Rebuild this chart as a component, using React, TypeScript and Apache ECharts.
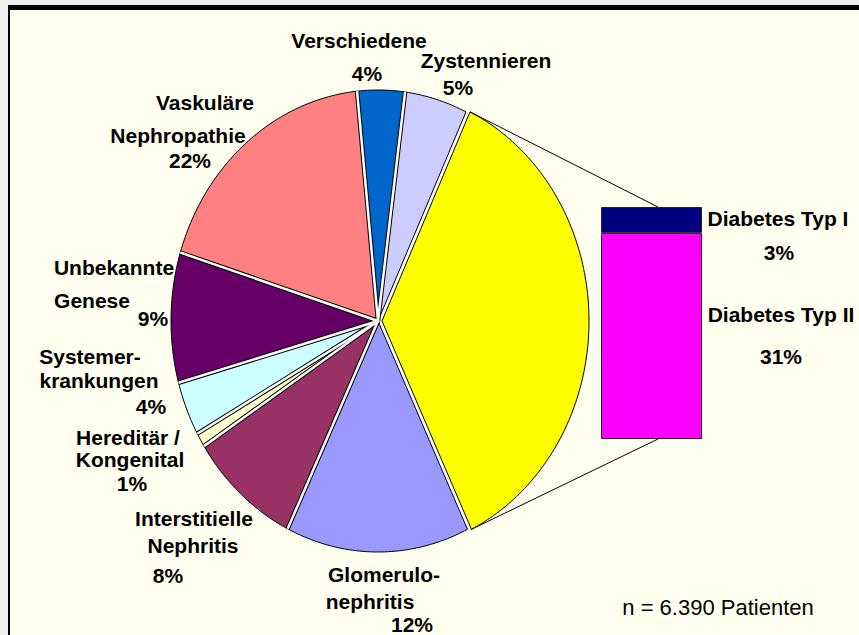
import React, { useEffect, useRef } from "react";
import * as echarts from "echarts";

// ---------- data ----------
const sliceNames = [
  "Verschiedene",
  "Zystennieren",
  "Diabetes",
  "Glomerulonephritis",
  "Interstitielle Nephritis",
  "Hereditär / Kongenital",
  "Systemerkrankungen",
  "Unbekannte Genese",
  "Vaskuläre Nephropathie",
];
const diabetesNames = ["Diabetes Typ I", "Diabetes Typ II"];
const diabetesValues = [4.0, 31.9];
const diabetesLabels = ["3%", "31%"];
const diabetesTotal = diabetesValues[0] + diabetesValues[1];
const sliceValues = [3.7, 4.9, diabetesTotal, 14.3, 8.7, 1.0, 3.8, 9.1, 18.6];
const sliceLabels = ["4%", "5%", "", "12%", "8%", "1%", "4%", "9%", "22%"];
const sliceLabelLines = [
  ["Verschiedene"],
  ["Zystennieren"],
  [],
  ["Glomerulo-", "nephritis"],
  ["Interstitielle", "Nephritis"],
  ["Hereditär /", "Kongenital"],
  ["Systemer-", "krankungen"],
  ["Unbekannte", "Genese"],
  ["Vaskuläre", "Nephropathie"],
];
const noteText = "n = 6.390 Patienten";

// ---------- styles / layout ----------
const sliceColors = [
  "#0066CC",
  "#CCCCFF",
  "#FFFF00",
  "#9999FF",
  "#993366",
  "#FFFFCC",
  "#CCFFFF",
  "#660066",
  "#FF8080",
];
const diabetesColors = ["#000080", "#FF00FF"];
const DIAB = 2;
const CX = 378;
const CY = 321;
const RX = 207;
const RY = 231;
const K = RY / RX;
const START_DEG = -5.8;
const BAR_LEFT = 601;
const BAR_TOP = 207;
const BAR_W = 101;
const BAR_H = 232;
const LINE_END_X = BAR_LEFT + 57;

// centre positions of label lines (name lines..., percentage line)
const labelPos: number[][][] = [
  [[359, 40], [367, 73]],
  [[486, 60], [458, 87]],
  [],
  [[384, 574], [370, 601], [412, 624]],
  [[194, 518], [193, 545], [168, 575]],
  [[128, 437], [130, 459], [132, 483]],
  [[90, 356], [99, 380], [151, 406]],
  [[114, 267], [92, 300], [153, 318]],
  [[205, 102], [178, 135], [190, 160]],
];
const diabetesLabelPos = [
  [[778, 218], [779, 252]],
  [[781, 314], [781, 356]],
];
const notePos = [718, 607];

const FONT = "'Liberation Sans', Arial, Helvetica, sans-serif";
const FS = 21;
const NOTE_FS = 22;

// cumulative angles (degrees, clockwise from 12 o'clock)
const totalValue = sliceValues.reduce((a, b) => a + b, 0);
const sliceAngles: number[] = [START_DEG];
sliceValues.forEach((v, i) => sliceAngles.push(sliceAngles[i] + (v / totalValue) * 360));

function pt(deg: number, ox: number, oy: number): number[] {
  const r = (deg * Math.PI) / 180;
  return [CX + ox + RX * Math.sin(r), CY + oy - RY * Math.cos(r)];
}

function textEl(text: string, x: number, y: number, bold = true, fs = FS) {
  return {
    type: "text",
    x,
    y,
    z: 100,
    style: {
      text,
      fill: "#000",
      font: `${bold ? "bold " : ""}${fs}px ${FONT}`,
      textAlign: "center",
      textVerticalAlign: "middle",
    },
  };
}

export default function App() {
  const ref = useRef<HTMLDivElement>(null);

  useEffect(() => {
    if (!ref.current) return;
    const chart = echarts.init(ref.current, undefined, { renderer: "svg" });

    const texts: any[] = [];
    sliceLabelLines.forEach((lines, i) => {
      const all = lines.concat(sliceLabels[i] ? [sliceLabels[i]] : []);
      all.forEach((t, j) => {
        const p = labelPos[i][j];
        if (p) texts.push(textEl(t, p[0], p[1]));
      });
    });
    diabetesNames.forEach((n, i) => {
      texts.push(textEl(n, diabetesLabelPos[i][0][0], diabetesLabelPos[i][0][1]));
      texts.push(textEl(diabetesLabels[i], diabetesLabelPos[i][1][0], diabetesLabelPos[i][1][1]));
    });
    texts.push(textEl(noteText, notePos[0], notePos[1], false, NOTE_FS));

    const lastIndex = sliceValues.length - 1;

    const option: any = {
      animation: false,
      backgroundColor: "#F0F0F0",
      graphic: [
        { type: "rect", z: -100, shape: { x: 8, y: 5, width: 851, height: 630 }, style: { fill: "#FFFFF0" } },
        { type: "rect", z: -99, shape: { x: 8, y: 5, width: 851, height: 5 }, style: { fill: "#000" } },
        { type: "rect", z: -99, shape: { x: 8, y: 5, width: 2, height: 630 }, style: { fill: "#000" } },
        ...texts,
      ],
      grid: { left: BAR_LEFT, top: BAR_TOP, width: BAR_W, height: BAR_H, containLabel: false },
      xAxis: { type: "category", data: ["Diabetes"], show: false },
      yAxis: { type: "value", min: 0, max: diabetesTotal, show: false },
      series: [
        {
          type: "custom",
          name: "Ursachen",
          coordinateSystem: "none",
          data: sliceValues.map((v, i) => ({ name: sliceNames[i], value: v })),
          renderItem: (params: any) => {
            const i = params.dataIndex;
            const a0 = sliceAngles[i];
            const a1 = sliceAngles[i + 1];
            const mid = (((a0 + a1) / 2) * Math.PI) / 180;
            const ex = i === DIAB ? 4 : 0;
            const ox = ex * Math.sin(mid);
            const oy = -ex * Math.cos(mid) * K;
            const pts: number[][] = [[CX + ox, CY + oy]];
            const steps = Math.max(2, Math.ceil(a1 - a0));
            for (let s = 0; s <= steps; s++) {
              pts.push(pt(a0 + ((a1 - a0) * s) / steps, ox, oy));
            }
            const children: any[] = [];
            if (i === 0) {
              children.push({
                type: "ellipse",
                shape: { cx: CX, cy: CY, rx: RX, ry: RY },
                style: { fill: "#FFFFFF" },
              });
            }
            children.push({
              type: "polygon",
              shape: { points: pts },
              style: { fill: sliceColors[i], stroke: "#000", lineWidth: 1, lineJoin: "round" },
            });
            if (i === DIAB) {
              const p0 = pt(a0, ox, oy);
              const p1 = pt(a1, ox, oy);
              children.push({
                type: "line",
                shape: { x1: p0[0], y1: p0[1], x2: LINE_END_X, y2: BAR_TOP },
                style: { stroke: "#000", lineWidth: 1 },
              });
              children.push({
                type: "line",
                shape: { x1: p1[0], y1: p1[1], x2: LINE_END_X, y2: BAR_TOP + BAR_H },
                style: { stroke: "#000", lineWidth: 1 },
              });
            }
            if (i === lastIndex) {
              // white separation gaps between the non-exploded slices
              const gapAngles: number[] = [];
              for (let b = 0; b < sliceValues.length; b++) {
                const prev = (b - 1 + sliceValues.length) % sliceValues.length;
                if (b !== DIAB && prev !== DIAB) gapAngles.push(sliceAngles[b]);
              }
              gapAngles.forEach((g) => {
                const e = pt(g, 0, 0);
                children.push({
                  type: "line",
                  shape: { x1: CX, y1: CY, x2: e[0], y2: e[1] },
                  style: { stroke: "#000", lineWidth: 4.5 },
                });
              });
              gapAngles.forEach((g) => {
                const e = pt(g, 0, 0);
                children.push({
                  type: "line",
                  shape: { x1: CX, y1: CY, x2: e[0], y2: e[1] },
                  style: { stroke: "#FFFFFF", lineWidth: 2.5 },
                });
              });
            }
            return { type: "group", children };
          },
        },
        {
          type: "bar",
          name: diabetesNames[1],
          stack: "d",
          barWidth: "100%",
          data: [diabetesValues[1]],
          itemStyle: { color: diabetesColors[1], borderColor: "#222", borderWidth: 1 },
        },
        {
          type: "bar",
          name: diabetesNames[0],
          stack: "d",
          barWidth: "100%",
          data: [diabetesValues[0]],
          itemStyle: { color: diabetesColors[0], borderColor: "#222", borderWidth: 1 },
        },
      ],
    };
    chart.setOption(option);
    return () => chart.dispose();
  }, []);

  return (
    <div
      ref={ref}
      style={{ position: "absolute", left: 0, top: 0, width: 859, height: 635 }}
    />
  );
}
